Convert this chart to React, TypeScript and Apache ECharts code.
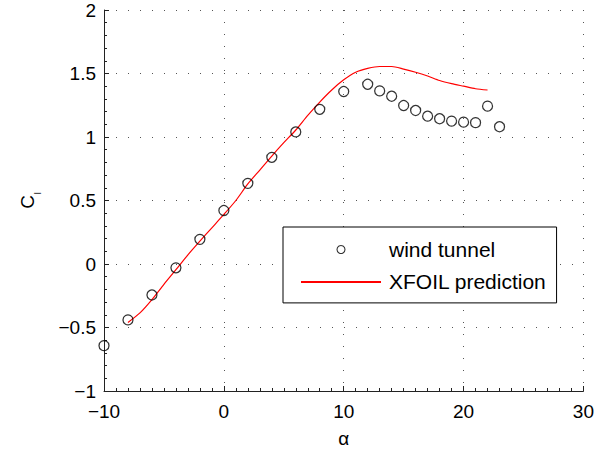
import React, { useEffect, useRef } from "react";
import * as echarts from "echarts";

const alphaTunnel = [-10, -8, -6, -4, -2, 0, 2, 4, 6, 8, 10, 12, 13, 14, 15, 16, 17, 18, 19, 20, 21, 22, 23];
const clTunnel = [-0.643, -0.44, -0.244, -0.03, 0.194, 0.421, 0.635, 0.84, 1.04, 1.218, 1.358, 1.415, 1.363, 1.321, 1.248, 1.209, 1.164, 1.144, 1.125, 1.117, 1.113, 1.243, 1.081];

const alphaXfoil = [-8, -7, -6, -5, -4, -3, -2, -1, 0, 1, 2, 3, 4, 5, 6, 7, 8, 9, 10, 11, 12, 13, 14, 15, 16, 17, 18, 19, 20, 21, 22];
const clXfoil = [-0.46, -0.385, -0.28, -0.16, -0.045, 0.072, 0.18, 0.285, 0.39, 0.5, 0.63, 0.74, 0.85, 0.955, 1.055, 1.17, 1.275, 1.37, 1.45, 1.51, 1.54, 1.555, 1.555, 1.535, 1.51, 1.48, 1.445, 1.42, 1.4, 1.38, 1.37];

const seriesNames = ["wind tunnel", "XFOIL prediction"];
const xName = "α";

const FONT = "'Liberation Sans', Arial, Helvetica, sans-serif";
const fmt = (v: number) => String(v).replace("-", "\u2212");

export default function App() {
  const ref = useRef<HTMLDivElement>(null);
  useEffect(() => {
    if (!ref.current) return;
    const chart = echarts.init(ref.current, null, { renderer: "svg" });
    const dotted = { color: "#555", width: 1, type: [1, 11] as number[] };
    chart.setOption({
      animation: false,
      backgroundColor: "#fff",
      textStyle: { fontFamily: FONT },
      grid: { left: 104, right: 13, top: 10, bottom: 60 },
      xAxis: {
        type: "value",
        min: -10,
        max: 30,
        interval: 10,
        name: xName,
        nameLocation: "middle",
        nameGap: 38,
        nameTextStyle: { fontSize: 19, color: "#000", fontFamily: FONT },
        axisLine: { show: true, onZero: false, lineStyle: { color: "#222", width: 1 } },
        axisTick: { show: true, inside: true, length: 5, lineStyle: { color: "#222" } },
        minorTick: { show: true, splitNumber: 10, length: 3, lineStyle: { color: "#222" } },
        axisLabel: { fontSize: 19, color: "#000", margin: 11, formatter: fmt, fontFamily: FONT },
        splitLine: { show: true, lineStyle: dotted },
      },
      yAxis: {
        type: "value",
        min: -1,
        max: 2,
        interval: 0.5,
        name: "{c|C}{s|l}",
        nameLocation: "middle",
        nameRotate: 90,
        nameGap: 63,
        nameTextStyle: {
          color: "#000",
          fontFamily: FONT,
          rich: {
            c: { fontSize: 19, lineHeight: 22, padding: [0, 0, 5, 0], color: "#000", fontFamily: FONT },
            s: { fontSize: 9, lineHeight: 9, padding: [17, 0, 1, 1], color: "#000", fontFamily: FONT },
          },
        },
        axisLine: { show: true, onZero: false, lineStyle: { color: "#222", width: 1 } },
        axisTick: { show: true, inside: true, length: 5, lineStyle: { color: "#222" } },
        minorTick: { show: true, splitNumber: 5, length: 3, lineStyle: { color: "#222" } },
        axisLabel: { fontSize: 19, color: "#000", margin: 8, formatter: fmt, fontFamily: FONT },
        splitLine: { show: true, lineStyle: dotted },
      },
      legend: {
        orient: "vertical",
        left: 283,
        top: 227,
        data: [
          { name: seriesNames[0], itemStyle: { color: "rgba(0,0,0,0)", borderColor: "#000", borderWidth: 1.1 } },
          { name: seriesNames[1], itemStyle: { opacity: 0 } },
        ],
        backgroundColor: "#fff",
        borderColor: "#000",
        borderWidth: 1,
        borderRadius: 0,
        padding: [12, 10, 10.5, 17],
        itemWidth: 80,
        itemHeight: 8,
        itemGap: 11.4,
        selectedMode: false,
        textStyle: { fontSize: 21, lineHeight: 21, color: "#000", fontFamily: FONT, padding: [0, 0, 0, 3] },
      },
      series: [
        {
          name: seriesNames[0],
          type: "scatter",
          symbol: "circle",
          symbolSize: 10,
          itemStyle: { color: "rgba(0,0,0,0)", borderColor: "#000", borderWidth: 1.25 },
          data: alphaTunnel.map((a, i) => [a, clTunnel[i]]),
          z: 3,
        },
        {
          name: seriesNames[1],
          type: "line",
          symbol: "none",
          showSymbol: false,
          smooth: 0.25,
          lineStyle: { color: "#ff0000", width: 1.2 },
          itemStyle: { color: "#ff0000" },
          data: alphaXfoil.map((a, i) => [a, clXfoil[i]]),
          z: 2,
        },
      ],
    });
    return () => chart.dispose();
  }, []);
  return (
    <div
      ref={ref}
      style={{ position: "absolute", left: 0, top: 0, width: 597, height: 453, background: "#fff" }}
    />
  );
}
